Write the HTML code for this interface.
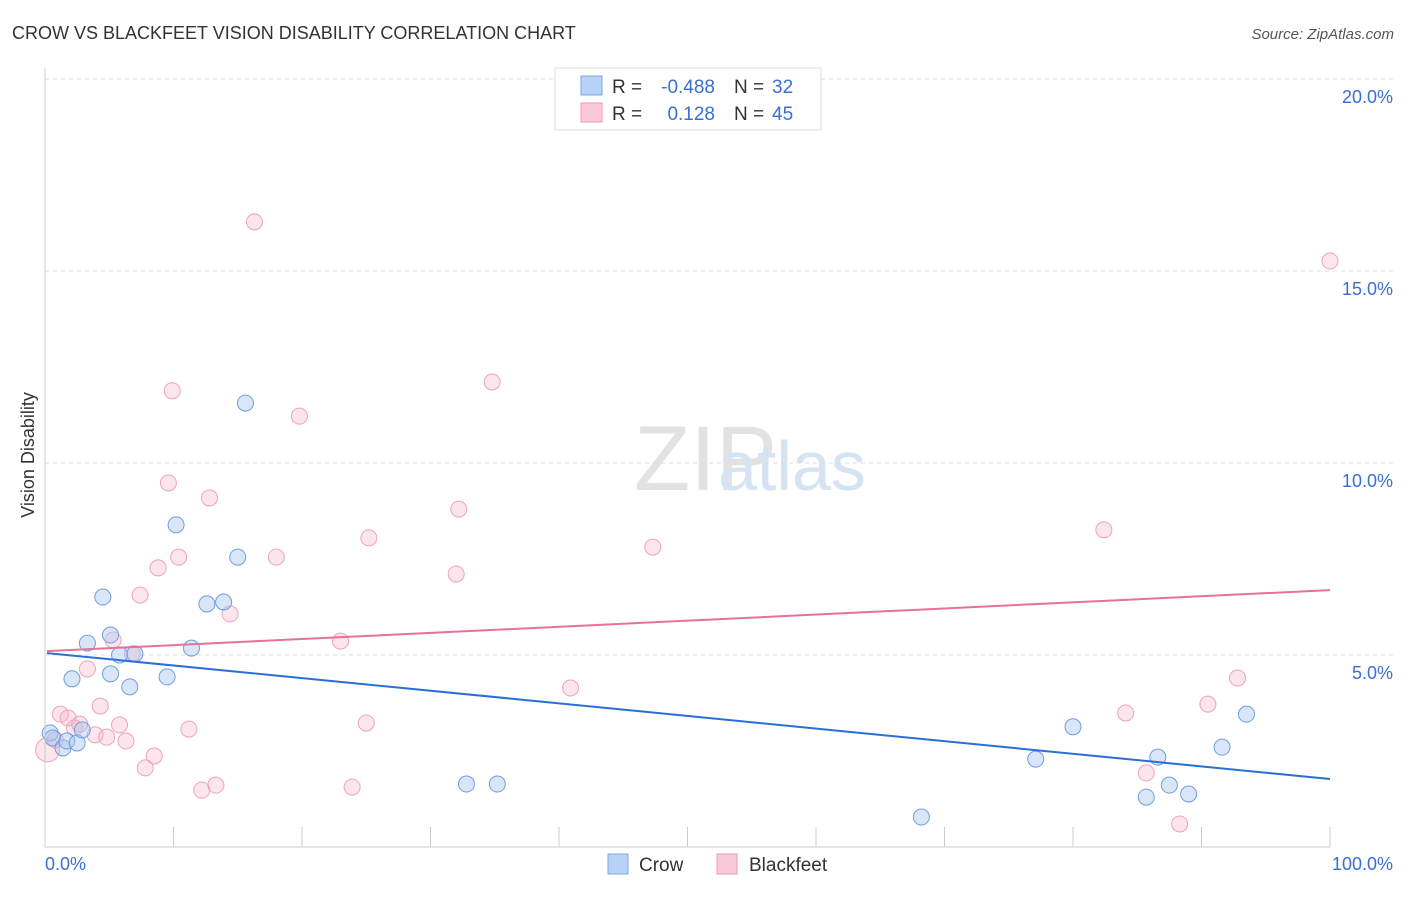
<!DOCTYPE html>
<html><head><meta charset="utf-8"><style>
body{margin:0;background:#fff;font-family:"Liberation Sans",sans-serif;}
svg text{font-family:"Liberation Sans",sans-serif;}
</style></head><body>
<svg id="c" width="1406" height="892">
<text x="12" y="39" font-size="18" fill="#333">CROW VS BLACKFEET VISION DISABILITY CORRELATION CHART</text>
<text x="1394" y="39" font-size="15" fill="#555" font-style="italic" text-anchor="end">Source: ZipAtlas.com</text>
<text x="634" y="490" font-size="92" fill="#e2e2e2" font-family="Liberation Serif">ZIP</text>
<text x="718" y="490" font-size="70" fill="#d5e3f3">atlas</text>
<text transform="translate(34,455) rotate(-90)" font-size="18" fill="#333" text-anchor="middle">Vision Disability</text>
<g id="grid"></g><g id="ticks"></g><g id="pts"></g><g id="lines"></g>
<line x1="45" y1="68" x2="45" y2="847" stroke="#ccc"/>
<line x1="45" y1="847" x2="1330" y2="847" stroke="#ccc"/>
<text x="45" y="870" font-size="18" fill="#3a6fd0">0.0%</text>
<text x="1393" y="870" font-size="18" fill="#3a6fd0" text-anchor="end">100.0%</text>
<g>
<rect x="555" y="68" width="266" height="62" fill="#fff" stroke="#ddd"/>
<rect x="581" y="76" width="21" height="19" fill="#b8d3f5" stroke="#7aaae6"/>
<rect x="581" y="103" width="21" height="19" fill="#fcc9d8" stroke="#ef9ab4"/>
<text x="612" y="93" font-size="19" fill="#333">R = </text><text x="715" y="93" font-size="19" fill="#3a6fd0" text-anchor="end">-0.488</text>
<text x="734" y="93" font-size="19" fill="#333">N = </text><text x="772" y="93" font-size="19" fill="#3a6fd0">32</text>
<text x="612" y="120" font-size="19" fill="#333">R = </text><text x="715" y="120" font-size="19" fill="#3a6fd0" text-anchor="end">0.128</text>
<text x="734" y="120" font-size="19" fill="#333">N = </text><text x="772" y="120" font-size="19" fill="#3a6fd0">45</text>
</g>
<g>
<rect x="608" y="854" width="20" height="20" fill="#b8d3f5" stroke="#7aaae6"/>
<text x="639" y="871" font-size="19" fill="#333">Crow</text>
<rect x="717" y="854" width="20" height="20" fill="#fcc9d8" stroke="#ef9ab4"/>
<text x="749" y="871" font-size="19" fill="#333">Blackfeet</text>
</g>
</svg>
<script>
const yTicks=[5,10,15,20];
const crowX=[0.4,0.6,1.4,1.7,2.1,2.5,2.9,3.3,4.5,5.1,5.1,5.8,6.6,7.0,9.5,10.2,11.4,12.6,13.9,15.0,15.6,32.8,35.2,68.2,77.1,80.0,85.7,86.6,87.5,89.0,91.6,93.5];
const crowY=[2.97,2.84,2.58,2.76,4.38,2.71,3.05,5.31,6.51,5.52,4.51,5.0,4.17,5.03,4.43,8.39,5.18,6.33,6.38,7.55,11.56,1.64,1.64,0.78,2.29,3.13,1.30,2.34,1.61,1.38,2.60,3.46];
const bfX=[0.2,0.8,1.2,1.8,2.3,2.7,3.3,3.9,4.3,4.8,5.3,5.8,6.3,6.8,7.4,7.8,8.5,8.8,9.6,9.9,10.4,11.2,12.2,12.8,13.3,14.4,16.3,18.0,19.8,23.0,23.9,25.0,25.2,32.0,32.2,34.8,40.9,47.3,82.4,84.1,85.7,88.3,90.5,92.8,100];
const bfY=[2.53,2.79,3.46,3.36,3.10,3.20,4.64,2.92,3.67,2.86,5.39,3.18,2.76,5.03,6.56,2.06,2.37,7.27,9.48,11.88,7.55,3.07,1.48,9.09,1.61,6.07,16.28,7.55,11.22,5.36,1.56,3.23,8.05,7.11,8.80,12.11,4.14,7.81,8.26,3.49,1.93,0.60,3.72,4.40,15.26];
const crowTrend=[5.05,1.77];
const bfTrend=[5.10,6.69];
const NS="http://www.w3.org/2000/svg";
const sx=v=>45+v*12.85, sy=v=>847-v*38.4;
function mk(p,t,a){const e=document.createElementNS(NS,t);for(const k in a)e.setAttribute(k,a[k]);p.appendChild(e);return e;}
const grid=document.getElementById('grid');
yTicks.forEach(t=>{
 const l=mk(grid,'line',{x1:45,x2:1393,y1:sy(t),y2:sy(t),stroke:'#ddd','stroke-dasharray':'4,4'});
 
 
 const tx=mk(grid,'text',{x:1393,y:sy(t)+24,'font-size':18,fill:'#3a6fd0','text-anchor':'end'});
 tx.textContent=t.toFixed(1)+'%';
 
 
});
const tk=document.getElementById('ticks');
for(let i=1;i<=10;i++){
 const l=mk(tk,'line',{x1:sx(i*10),x2:sx(i*10),y1:827,y2:847,stroke:'#ccc'});
 
 
}
const pts=document.getElementById('pts');
bfX.forEach((x,i)=>{
 const c=mk(pts,'circle',{cx:sx(x),cy:sy(bfY[i]),r:i==0?12:8,fill:'rgba(248,180,200,0.35)',stroke:'#eea3bb','stroke-width':1});
 
 
});
crowX.forEach((x,i)=>{
 const c=mk(pts,'circle',{cx:sx(x),cy:sy(crowY[i]),r:8,fill:'rgba(170,200,240,0.45)',stroke:'#6d9fe0','stroke-width':1});
 
 
});
const ln=document.getElementById('lines');
const l1=mk(ln,'line',{x1:sx(0)+2,x2:sx(100),y1:sy(crowTrend[0]),y2:sy(crowTrend[1]),stroke:'#2a6fd6','stroke-width':2});


const l2=mk(ln,'line',{x1:sx(0)+2,x2:sx(100),y1:sy(bfTrend[0]),y2:sy(bfTrend[1]),stroke:'#e8719a','stroke-width':2});


</script>
</body></html>
